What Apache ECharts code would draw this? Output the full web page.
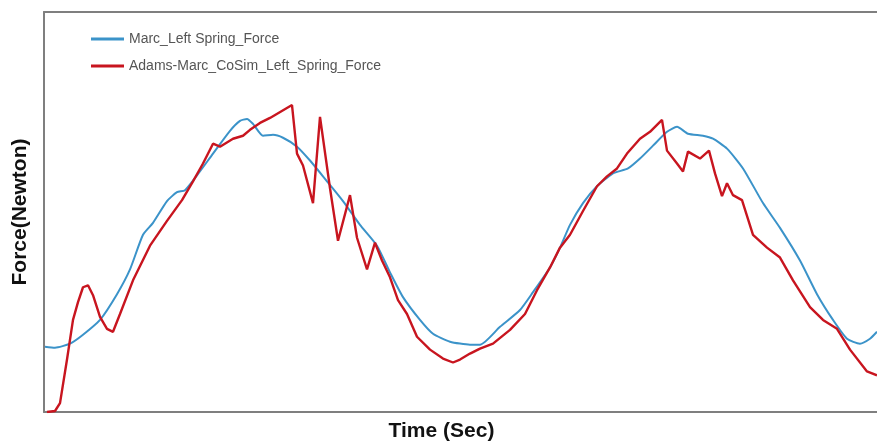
<!DOCTYPE html>
<html>
<head>
<meta charset="utf-8">
<script src="https://cdn.jsdelivr.net/npm/echarts@6/dist/echarts.min.js"></script>
<style>html,body{margin:0;padding:0;background:#fff}#c{width:877px;height:447px}</style>
</head>
<body>
<div id="c"></div>
<script>
// Values (time in arbitrary units, force in arbitrary units)
var seriesNames = ['Marc_Left Spring_Force', 'Adams-Marc_CoSim_Left_Spring_Force'];
var marcTime = [1,11,26,39,56,73,86,99,109,123,133,141,153,169,186,196,203,209,219,229,239,253,266,283,299,316,333,346,359,376,389,406,426,436,456,476,489,506,516,526,539,553,569,584,596,609,623,633,644,659,669,683,699,719,736,756,773,789,803,816,826,833];
var marcForce = [66,65,69,78,93,119,144,179,191,213,222,224,239,261,284,294,296,291,279,280,277,268,254,233,213,189,168,141,116,93,79,71,68,68,86,103,121,146,166,189,211,228,241,246,256,269,283,288,281,279,276,266,246,211,186,153,119,93,74,69,74,81];
var cosimTime = [3,11,16,23,29,34,39,44,49,56,63,69,76,89,106,123,138,149,159,169,176,189,199,206,216,226,248,253,259,269,276,286,294,306,313,323,331,338,346,354,363,373,386,399,409,416,426,436,449,466,481,493,506,516,526,539,553,563,573,583,596,606,618,623,633,639,644,656,665,671,678,683,689,698,709,723,736,749,766,779,793,806,823,833];
var cosimForce = [0,1,9,53,93,111,126,128,118,96,84,81,99,133,168,193,214,233,251,271,268,276,279,285,292,297,310,261,249,211,298,226,173,219,176,144,171,153,136,113,99,76,63,54,50,53,59,64,69,83,99,123,146,166,179,203,228,238,246,261,276,283,295,264,251,243,263,256,264,241,218,231,219,214,179,166,156,133,106,93,84,63,41,37];

function pairs(xs, ys) { return xs.map(function (x, i) { return [x, ys[i]]; }); }

var frame = {show: true, lineStyle: {color: '#7f7f7f', width: 2}};
var chart = echarts.init(document.getElementById('c'), null, {renderer: 'canvas'});
chart.setOption({
  animation: false,
  backgroundColor: '#ffffff',
  grid: {left: 44, right: 0, top: 12, bottom: 31, show: false},
  legend: {
    orient: 'vertical', left: 86, top: 27,
    itemWidth: 33, itemHeight: 3, itemGap: 13, icon: 'rect',
    textStyle: {fontFamily: 'Liberation Sans', fontSize: 14, color: '#555'},
    data: seriesNames
  },
  xAxis: [{
    type: 'value', min: 0, max: 833, position: 'bottom',
    name: 'Time (Sec)', nameLocation: 'middle', nameGap: 9,
    nameTextStyle: {fontFamily: 'Liberation Sans', fontWeight: 'bold', fontSize: 21, color: '#111', padding: [0, 38, 0, 0]},
    axisLine: frame, axisTick: {show: false}, axisLabel: {show: false}, splitLine: {show: false}
  }, {
    type: 'value', min: 0, max: 833, position: 'top',
    axisLine: frame, axisTick: {show: false}, axisLabel: {show: false}, splitLine: {show: false}
  }],
  yAxis: {
    type: 'value', min: 0, max: 404,
    name: 'Force(Newton)', nameLocation: 'middle', nameGap: 13,
    nameTextStyle: {fontFamily: 'Liberation Sans', fontWeight: 'bold', fontSize: 21, color: '#111'},
    axisLine: frame, axisTick: {show: false}, axisLabel: {show: false}, splitLine: {show: false}
  },
  series: [
    {name: seriesNames[0], type: 'line', data: pairs(marcTime, marcForce), symbol: 'none', smooth: 0.2,
     lineStyle: {color: '#3b93c9', width: 2}, itemStyle: {color: '#3b93c9'}},
    {name: seriesNames[1], type: 'line', data: pairs(cosimTime, cosimForce), symbol: 'none',
     lineStyle: {color: '#c8151f', width: 2.4}, itemStyle: {color: '#c8151f'}}
  ]
});
</script>
</body>
</html>
